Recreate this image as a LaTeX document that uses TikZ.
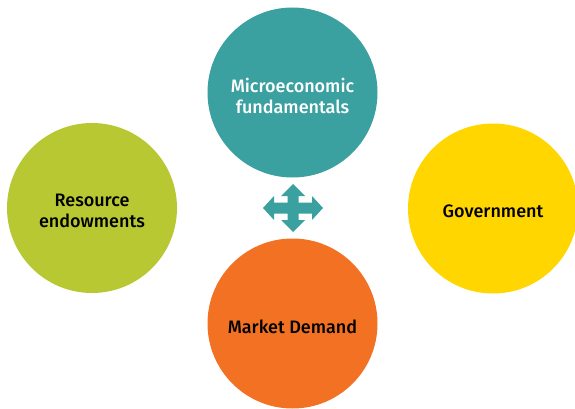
\documentclass[tikz,border=0pt]{standalone}
\usepackage{fontspec}
\setmainfont{Fira Sans}[BoldFont={Fira Sans Medium}]
\definecolor{tealc}{RGB}{58,160,160}
\definecolor{greenc}{RGB}{184,200,50}
\definecolor{yellowc}{RGB}{255,214,0}
\definecolor{orangec}{RGB}{243,113,34}
\tikzset{
  bubble/.style={circle, minimum size=170pt, inner sep=0pt},
  lbl/.style={align=center, inner sep=0pt,
    font=\fontsize{18}{21}\selectfont\bfseries, text=black},
}
\begin{document}
\begin{tikzpicture}[x=1pt,y=-1pt]
\useasboundingbox (0,0) rectangle (575,409);
\node[bubble, fill=tealc] (micro) at (292.5,92.5) {};
\node[bubble, fill=greenc] (res) at (92,208) {};
\node[bubble, fill=yellowc] (gov) at (493,208.5) {};
\node[bubble, fill=orangec] (mkt) at (292.5,323.5) {};
\node[lbl, text=white] (microt) at ([yshift=-3pt]micro.center) {Microeconomic\\fundamentals};
\node[lbl] (rest) at ([yshift=-3pt]res.center) {Resource\\endowments};
\node[lbl] (govt) at ([yshift=-3pt]gov.center) {Government};
\node[lbl] (mktt) at ([yshift=-3pt]mkt.center) {Market Demand};
\coordinate (c) at (293,208);
\fill[tealc, shift={(c)}]
  (-30,0) -- (-19,-12) -- (-19,-5.5) -- (-5.5,-5.5) -- (-5.5,-12) -- (-12,-12)
  -- (0,-24) -- (12,-12) -- (5.5,-12) -- (5.5,-5.5) -- (19,-5.5) -- (19,-12)
  -- (30,0) -- (19,12) -- (19,5.5) -- (5.5,5.5) -- (5.5,12) -- (12,12)
  -- (0,24) -- (-12,12) -- (-5.5,12) -- (-5.5,5.5) -- (-19,5.5) -- (-19,12) -- cycle;
\end{tikzpicture}
\end{document}
